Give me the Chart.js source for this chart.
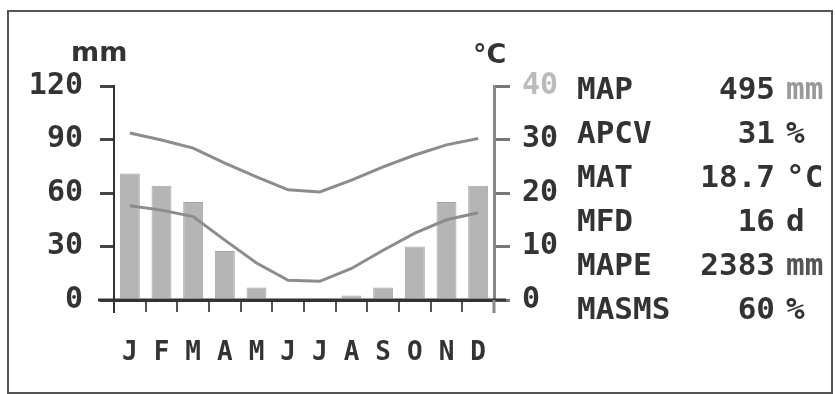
<!DOCTYPE html>
<html>
<head>
    <title>Diagrama climático</title>
    <script src="https://cdn.jsdelivr.net/npm/chart.js"></script>
    <style>
        body {
            margin: 0;
            background-color: #ffffff;
            font-family: "DejaVu Sans Mono", monospace;
        }
        #lienzo {
            position: absolute;
            left: 0;
            top: 0;
        }
        #marco {
            position: absolute;
            left: 7px;
            top: 10px;
            width: 822px;
            height: 380px;
            border: 2px solid #555;
            overflow: hidden;
        }
        .unidadEje {
            position: absolute;
            font-family: "DejaVu Sans", sans-serif;
            font-weight: bold;
            font-size: 27px;
            line-height: 27px;
            color: #333;
        }
        .fila {
            position: absolute;
            font-weight: bold;
            font-size: 31px;
            line-height: 31px;
            color: #333;
            white-space: nowrap;
        }
        .fila span {
            position: absolute;
            top: 0;
        }
        .valor {
            text-align: right;
        }
    </style>
</head>
<body>
    <canvas id="lienzo" width="835" height="394"></canvas>
    <div id="marco"></div>

    <script>
        var meses = ['J', 'F', 'M', 'A', 'M', 'J', 'J', 'A', 'S', 'O', 'N', 'D'];
        var lluvia = [71, 64, 55, 27.5, 7, 0, 0, 2.5, 7, 30, 55, 64];
        var tempMax = [31.2, 29.9, 28.4, 25.6, 23, 20.6, 20.2, 22.4, 24.9, 27.1, 29, 30.2];
        var tempMin = [17.6, 16.8, 15.6, 11.2, 6.9, 3.7, 3.5, 5.9, 9.3, 12.5, 15, 16.3];
        var ticksLluvia = [0, 30, 60, 90, 120];
        var ticksTemp = [0, 10, 20, 30, 40];

        var etiquetas = ['MAP', 'APCV', 'MAT', 'MFD', 'MAPE', 'MASMS'];
        var valores = ['495', '31', '18.7', '16', '2383', '60'];
        var unidades = ['mm', '%', '°C', 'd', 'mm', '%'];
        var coloresUnidad = ['#999', '#333', '#333', '#333', '#555', '#333'];

        // tabla de la derecha (coordenadas relativas al marco)
        var marco = document.getElementById('marco');
        for (var i = 0; i < etiquetas.length; i++) {
            var fila = document.createElement('div');
            fila.className = 'fila';
            fila.style.left = '0px';
            fila.style.top = (88 + i * 44 - 15 - 12) + 'px';
            fila.style.width = '830px';
            fila.style.height = '31px';
            fila.innerHTML =
                '<span style="left:' + (577 - 9) + 'px">' + etiquetas[i] + '</span>' +
                '<span class="valor" style="left:' + (600 - 9) + 'px;width:175px">' + valores[i] + '</span>' +
                '<span style="left:' + (786 - 9) + 'px;color:' + coloresUnidad[i] + '">' + unidades[i] + '</span>';
            marco.appendChild(fila);
        }

        var mm = document.createElement('div');
        mm.className = 'unidadEje';
        mm.style.left = (71 - 9) + 'px';
        mm.style.top = (38 - 12) + 'px';
        mm.textContent = 'mm';
        marco.appendChild(mm);

        var gc = document.createElement('div');
        gc.className = 'unidadEje';
        gc.style.left = (473 - 9) + 'px';
        gc.style.top = (40 - 12) + 'px';
        gc.textContent = '°C';
        marco.appendChild(gc);

        // prolonga los ejes como en el original
        var extremosEjes = {
            id: 'extremosEjes',
            afterDraw: function (chart) {
                var ctx = chart.ctx;
                var a = chart.chartArea;
                ctx.save();
                ctx.strokeStyle = '#333';
                ctx.lineWidth = 3;
                ctx.beginPath();
                ctx.moveTo(a.left - 16, a.bottom);
                ctx.lineTo(a.right + 12, a.bottom);
                ctx.stroke();
                ctx.lineWidth = 2;
                ctx.beginPath();
                ctx.moveTo(a.left, a.bottom);
                ctx.lineTo(a.left, a.bottom + 13);
                ctx.stroke();
                ctx.strokeStyle = '#888';
                ctx.lineWidth = 3;
                ctx.beginPath();
                ctx.moveTo(a.right, a.bottom);
                ctx.lineTo(a.right, a.bottom + 13);
                ctx.stroke();
                ctx.restore();
            }
        };

        Chart.defaults.font.family = '"DejaVu Sans Mono", monospace';
        Chart.defaults.font.weight = 'bold';

        new Chart(document.getElementById('lienzo'), {
            type: 'bar',
            data: {
                labels: meses,
                datasets: [
                    {
                        type: 'line',
                        data: tempMax,
                        yAxisID: 'yT',
                        borderColor: '#8c8c8c',
                        borderWidth: 3,
                        pointRadius: 0,
                        order: 1
                    },
                    {
                        type: 'line',
                        data: tempMin,
                        yAxisID: 'yT',
                        borderColor: '#8c8c8c',
                        borderWidth: 3,
                        pointRadius: 0,
                        order: 1
                    },
                    {
                        data: lluvia,
                        yAxisID: 'yP',
                        backgroundColor: '#b5b5b5',
                        borderColor: '#a5a5a5',
                        borderWidth: 1,
                        barPercentage: 0.63,
                        categoryPercentage: 1,
                        order: 2
                    }
                ]
            },
            options: {
                responsive: false,
                animation: false,
                events: [],
                layout: { padding: { top: 86, left: 0, right: 0, bottom: 0 } },
                plugins: {
                    legend: { display: false },
                    tooltip: { enabled: false }
                },
                scales: {
                    x: {
                        afterFit: function (s) { s.height = 94; },
                        border: { color: '#333', width: 3 },
                        grid: {
                            drawOnChartArea: false,
                            tickLength: 12,
                            color: '#555',
                            lineWidth: 2
                        },
                        ticks: {
                            color: '#333',
                            padding: 26,
                            font: { size: 26, weight: 'bold' }
                        }
                    },
                    yP: {
                        position: 'left',
                        min: 0,
                        max: 120,
                        afterFit: function (s) { s.width = 114; },
                        afterBuildTicks: function (s) {
                            s.ticks = ticksLluvia.map(function (v) { return { value: v }; });
                        },
                        border: { color: '#333', width: 2 },
                        grid: {
                            drawOnChartArea: false,
                            tickLength: 14,
                            color: '#444',
                            lineWidth: 3
                        },
                        ticks: {
                            color: '#333',
                            padding: 17,
                            font: { size: 30, weight: 'bold' }
                        }
                    },
                    yT: {
                        position: 'right',
                        min: 0,
                        max: 40,
                        afterFit: function (s) { s.width = 341; },
                        afterBuildTicks: function (s) {
                            s.ticks = ticksTemp.map(function (v) { return { value: v }; });
                        },
                        border: { color: '#888', width: 3 },
                        grid: {
                            drawOnChartArea: false,
                            tickLength: 16,
                            color: '#777',
                            lineWidth: 3
                        },
                        ticks: {
                            color: function (c) { return c.tick.value === 40 ? '#bbb' : '#333'; },
                            padding: 12,
                            font: { size: 30, weight: 'bold' }
                        }
                    }
                }
            },
            plugins: [extremosEjes]
        });
    </script>
</body>
</html>
